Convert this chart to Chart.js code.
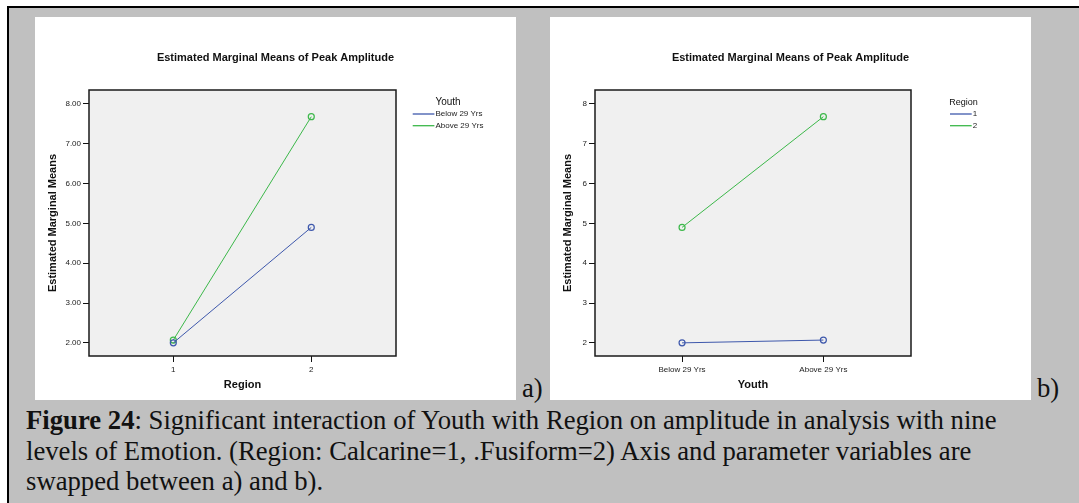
<!DOCTYPE html>
<html lang="en">
<head>
  <meta charset="UTF-8">
  <title>Estimated Marginal Means of Peak Amplitude</title>
  <script src="https://cdn.jsdelivr.net/npm/chart.js"></script>
  <style>
    html, body { margin: 0; padding: 0; background: #fff; }
    body { position: relative; width: 1079px; height: 503px; overflow: hidden; }
    #frame { position: absolute; left: 7px; top: 6px; width: 1080px; height: 500px;
             background: #c0c0c0; border-left: 2px solid #000; border-top: 2px solid #000; }
    .panel { position: absolute; top: 17px; width: 481px; height: 383px; background: #fff; }
    #panelA { left: 35px; }
    #panelB { left: 550px; }
    .tag { position: absolute; top: 375px; font: 26.7px/1 'Liberation Serif', 'Times New Roman', serif; color: #111; }
    #caption { position: absolute; left: 26px; top: 405px; font: 26.7px/30.7px 'Liberation Serif', 'Times New Roman', serif;
               color: #111; white-space: nowrap; }
  </style>
</head>
<body>
  <div id="frame"></div>
  <div class="panel" id="panelA"><canvas id="chartA" width="481" height="383"></canvas></div>
  <div class="panel" id="panelB"><canvas id="chartB" width="481" height="383"></canvas></div>
  <div class="tag" style="left:522px">a)</div>
  <div class="tag" style="left:1037px">b)</div>
  <div id="caption"><b>Figure 24</b>: Significant interaction of Youth with Region on amplitude in analysis with nine<br>levels of Emotion. (Region: Calcarine=1, .Fusiform=2) Axis and parameter variables are<br>swapped between a) and b).</div>

  <script>
    // categories
    const regionCats = ['1', '2'];
    const youthCats = ['Below 29 Yrs', 'Above 29 Yrs'];
    const yTicks = [2, 3, 4, 5, 6, 7, 8];

    // a) x = Region, one line per Youth group
    const below29ByRegion = [2.00, 4.90];
    const above29ByRegion = [2.07, 7.68];

    // b) x = Youth, one line per Region
    const region1ByYouth = [2.00, 2.07];
    const region2ByYouth = [4.90, 7.68];

    const BLUE = '#3e58ac';
    const GREEN = '#3cb84a';

    Chart.defaults.font.family = "'Liberation Sans', Arial, sans-serif";
    Chart.defaults.color = '#222';

    const toPoints = vals => vals.map((v, i) => ({ x: i + 1, y: v }));

    // grey plot background + dark frame like SPSS
    const plotFrame = {
      id: 'plotFrame',
      beforeDraw(chart) {
        const a = chart.chartArea, ctx = chart.ctx;
        ctx.save();
        ctx.fillStyle = '#f0f0f0';
        ctx.fillRect(a.left, a.top, a.right - a.left, a.bottom - a.top);
        ctx.restore();
      },
      afterDraw(chart) {
        const a = chart.chartArea, ctx = chart.ctx;
        ctx.save();
        ctx.strokeStyle = '#1a1a1a';
        ctx.lineWidth = 1.5;
        ctx.strokeRect(a.left, a.top, a.right - a.left, a.bottom - a.top);
        ctx.restore();
      }
    };

    // SPSS style legend: title centred over line samples
    const sideLegend = {
      id: 'sideLegend',
      afterDraw(chart, args, opts) {
        const ctx = chart.ctx;
        const sets = chart.data.datasets;
        ctx.save();
        ctx.font = "8px 'Liberation Sans', Arial, sans-serif";
        const w = opts.lineLen + 1 + Math.max(...sets.map(d => ctx.measureText(d.label).width));
        ctx.font = opts.titleSize + "px 'Liberation Sans', Arial, sans-serif";
        ctx.fillStyle = '#111';
        ctx.textAlign = 'center';
        ctx.textBaseline = 'middle';
        ctx.fillText(opts.title, opts.x + w / 2, opts.y);
        sets.forEach((d, i) => {
          const ly = opts.y + 11.7 + i * 11.7;
          ctx.strokeStyle = d.borderColor;
          ctx.lineWidth = 1.3;
          ctx.beginPath();
          ctx.moveTo(opts.x, ly);
          ctx.lineTo(opts.x + opts.lineLen, ly);
          ctx.stroke();
          ctx.font = "8px 'Liberation Sans', Arial, sans-serif";
          ctx.textAlign = 'left';
          ctx.fillStyle = '#222';
          ctx.fillText(d.label, opts.x + opts.lineLen + 1, ly);
        });
        ctx.restore();
      }
    };

    function drawPanel(id, cfg) {
      const tickGrid = { drawOnChartArea: false, drawTicks: true, tickLength: 6, color: '#111', lineWidth: 1 };
      return new Chart(document.getElementById(id), {
        type: 'line',
        data: {
          datasets: cfg.series.map(s => ({
            label: s.label,
            data: toPoints(s.values),
            borderColor: s.color,
            backgroundColor: 'rgba(0,0,0,0)',
            borderWidth: 1,
            tension: 0,
            pointRadius: 3,
            pointBorderWidth: 1.2,
            pointBorderColor: s.color,
            pointBackgroundColor: 'rgba(0,0,0,0)'
          }))
        },
        options: {
          responsive: false,
          animation: false,
          layout: { padding: 0 },
          plugins: {
            legend: { display: false },
            tooltip: { enabled: false },
            title: {
              display: true,
              text: 'Estimated Marginal Means of Peak Amplitude',
              color: '#111',
              font: { size: 11, weight: 'bold' },
              padding: { top: 34.4, bottom: 25.4 }
            },
            sideLegend: { title: cfg.legendTitle, titleSize: cfg.legendTitleSize, x: cfg.legendX, y: 85.3, lineLen: 21.7 }
          },
          scales: {
            x: {
              type: 'linear',
              min: cfg.xMin,
              max: cfg.xMax,
              afterBuildTicks: s => { s.ticks = cfg.cats.map((c, i) => ({ value: i + 1 })); },
              afterFit: s => { s.height = 44; },
              grid: tickGrid,
              border: { display: false },
              ticks: { padding: 3, autoSkip: false, maxRotation: 0, font: { size: 8 },
                       callback: v => cfg.cats[v - 1] },
              title: { display: true, text: cfg.xTitle, color: '#111',
                       font: { size: 11, weight: 'bold' }, padding: { bottom: 8.4 } }
            },
            y: {
              type: 'linear',
              min: 1.67,
              max: 8.35,
              afterBuildTicks: s => { s.ticks = yTicks.map(v => ({ value: v })); },
              afterFit: s => { s.width = cfg.yWidth; },
              grid: tickGrid,
              border: { display: false },
              ticks: { padding: 2, font: { size: 8 }, callback: v => v.toFixed(cfg.decimals) },
              title: { display: true, text: 'Estimated Marginal Means', color: '#111',
                       font: { size: 11, weight: 'bold' }, padding: { top: 11.4 } }
            },
            // empty right-hand box that keeps room for the legend
            legendSpace: {
              type: 'linear',
              position: 'right',
              grid: { display: false },
              border: { display: false },
              ticks: { display: false },
              afterFit: s => { s.width = 120; }
            }
          }
        },
        plugins: [plotFrame, sideLegend]
      });
    }

    drawPanel('chartA', {
      cats: regionCats, xTitle: 'Region', xMin: 0.389, xMax: 2.614, yWidth: 54, decimals: 2,
      legendTitle: 'Youth', legendTitleSize: 10, legendX: 377.7,
      series: [
        { label: 'Below 29 Yrs', values: below29ByRegion, color: BLUE },
        { label: 'Above 29 Yrs', values: above29ByRegion, color: GREEN }
      ]
    });

    drawPanel('chartB', {
      cats: youthCats, xTitle: 'Youth', xMin: 0.384, xMax: 2.62, yWidth: 45, decimals: 0,
      legendTitle: 'Region', legendTitleSize: 9, legendX: 400,
      series: [
        { label: '1', values: region1ByYouth, color: BLUE },
        { label: '2', values: region2ByYouth, color: GREEN }
      ]
    });
  </script>
</body>
</html>
